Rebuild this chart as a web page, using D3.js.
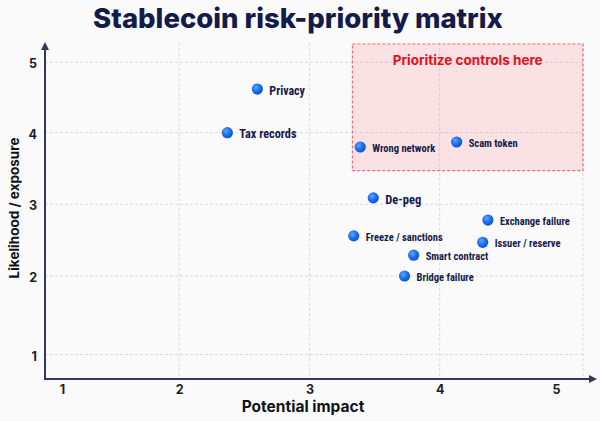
<!DOCTYPE html>
<html>
<head>
<meta charset="utf-8">
<script src="https://cdn.jsdelivr.net/npm/d3@7"></script>
<style>
  html, body { margin: 0; padding: 0; background: #fafafb; }
  svg { display: block; }
</style>
</head>
<body>
<div id="chart"></div>
<script>
// risk items: impact (x) and likelihood (y)
const risks = ['Privacy', 'Tax records', 'Wrong network', 'Scam token', 'De-peg',
  'Exchange failure', 'Freeze / sanctions', 'Issuer / reserve', 'Smart contract', 'Bridge failure']
const impact = [2.60, 2.37, 3.39, 4.13, 3.49, 4.37, 3.34, 4.33, 3.80, 3.73]
const likelihood = [4.62, 4.00, 3.80, 3.87, 3.09, 2.78, 2.56, 2.47, 2.29, 2.00]

const xTicks = [1, 2, 3, 4, 5]
const yTicks = [1, 2, 3, 4, 5]
const xGrid = [2, 3, 4]

// "prioritize" zone, in data units
const zoneX = [3.33, 5.1]
const zoneY = [3.47, 5.26]

const title = 'Stablecoin risk-priority matrix'
const xTitle = 'Potential impact'
const yTitle = 'Likelihood / exposure'
const zoneTitle = 'Prioritize controls here'

const width = 600
const height = 421
const plot = { left: 45, right: 583, top: 43, bottom: 379 }

const labelFont = '"Liberation Sans Narrow", "Arial Narrow", "Roboto Condensed", Roboto, sans-serif'
const labelSize = { 'Privacy': 12, 'Tax records': 12.3, 'De-peg': 12.5 }

const svg = d3.select('#chart').append('svg')
  .attr('width', width)
  .attr('height', height)

svg.append('rect')
  .attr('width', width).attr('height', height)
  .attr('fill', '#fafafb')

const defs = svg.append('defs')
const grad = defs.append('radialGradient')
  .attr('id', 'dot')
  .attr('cx', '38%').attr('cy', '35%').attr('r', '65%')
grad.append('stop').attr('offset', '0%').attr('stop-color', '#5da6ff')
grad.append('stop').attr('offset', '55%').attr('stop-color', '#1f6ff0')
grad.append('stop').attr('offset', '100%').attr('stop-color', '#0f54cc')

const x = d3.scaleLinear().domain([0.97, 5.1]).range([plot.left, plot.right])
// the picture's y spacing is not quite even, so map each tick
const y = d3.scaleLinear().domain([1, 2, 3, 4, 5]).range([354.5, 276, 204.3, 132.7, 62.3])

// grid
const grid = svg.append('g')
  .attr('stroke', '#dcdcdf')
  .attr('stroke-width', 1)
  .attr('stroke-dasharray', '3,2')
grid.selectAll('line.h')
  .data(yTicks)
  .enter().append('line')
  .attr('class', 'h')
  .attr('x1', plot.left).attr('x2', plot.right)
  .attr('y1', d => y(d)).attr('y2', d => y(d))
grid.selectAll('line.v')
  .data(xGrid.concat([5.1]))
  .enter().append('line')
  .attr('class', 'v')
  .attr('x1', d => x(d)).attr('x2', d => x(d))
  .attr('y1', plot.top).attr('y2', plot.bottom)

// priority zone
svg.append('rect')
  .attr('x', x(zoneX[0]))
  .attr('y', y(zoneY[1]))
  .attr('width', x(zoneX[1]) - x(zoneX[0]))
  .attr('height', y(zoneY[0]) - y(zoneY[1]))
  .attr('fill', 'rgba(250, 60, 80, 0.13)')
  .attr('stroke', '#f36b74')
  .attr('stroke-width', 1.2)
  .attr('stroke-dasharray', '3,2')

svg.append('text')
  .attr('x', (x(zoneX[0]) + x(zoneX[1])) / 2)
  .attr('y', 65)
  .attr('text-anchor', 'middle')
  .attr('font-family', 'Inter, Roboto, sans-serif')
  .attr('font-weight', 700)
  .attr('font-size', 13.5)
  .attr('fill', '#e6101a')
  .text(zoneTitle)

// axes
const xAxis = svg.append('g')
  .attr('transform', `translate(0,${plot.bottom})`)
  .call(d3.axisBottom(x).tickValues(xTicks).tickSize(0).tickPadding(6).tickFormat(d3.format('d')))
xAxis.select('.domain').remove()
xAxis.selectAll('text')
  .attr('font-family', 'Inter, Roboto, sans-serif')
  .attr('font-weight', 700)
  .attr('font-size', 12.5)
  .attr('fill', '#1d1d28')
  .attr('dx', d => d === 1 ? 13 : d === 5 ? -14 : 0)

const yAxis = svg.append('g')
  .attr('transform', `translate(${plot.left},0)`)
  .call(d3.axisLeft(y).tickValues(yTicks).tickSize(0).tickPadding(8).tickFormat(d3.format('d')))
yAxis.select('.domain').remove()
yAxis.selectAll('text')
  .attr('font-family', 'Inter, Roboto, sans-serif')
  .attr('font-weight', 700)
  .attr('font-size', 12.5)
  .attr('fill', '#1d1d28')
  .attr('dy', '0.45em')

const axisColor = '#35385a'
svg.append('line')
  .attr('x1', plot.left).attr('x2', 590)
  .attr('y1', plot.bottom).attr('y2', plot.bottom)
  .attr('stroke', axisColor).attr('stroke-width', 2)
svg.append('path')
  .attr('d', `M597,${plot.bottom} L589,${plot.bottom - 4} L589,${plot.bottom + 4} Z`)
  .attr('fill', axisColor)
svg.append('line')
  .attr('x1', plot.left).attr('x2', plot.left)
  .attr('y1', plot.bottom + 1).attr('y2', 49)
  .attr('stroke', axisColor).attr('stroke-width', 2)
svg.append('path')
  .attr('d', `M${plot.left},42 L${plot.left - 4},50 L${plot.left + 4},50 Z`)
  .attr('fill', axisColor)

// points
const pts = svg.append('g')
  .selectAll('g')
  .data(risks.map((name, i) => ({ name, ix: impact[i], lk: likelihood[i] })))
  .enter().append('g')
  .attr('transform', d => `translate(${x(d.ix)},${y(d.lk)})`)
pts.append('circle')
  .attr('r', 5.6)
  .attr('fill', 'url(#dot)')
pts.append('text')
  .attr('x', 12)
  .attr('y', 1.5)
  .attr('dominant-baseline', 'central')
  .attr('font-family', labelFont)
  .attr('font-weight', 700)
  .attr('font-size', d => labelSize[d.name] || 10.5)
  .attr('fill', '#161b4a')
  .text(d => d.name)

// titles
svg.append('text')
  .attr('x', 298)
  .attr('y', 28)
  .attr('text-anchor', 'middle')
  .attr('font-family', 'Inter, Roboto, sans-serif')
  .attr('font-weight', 800)
  .attr('font-size', 27.5)
  .attr('fill', '#141a4a')
  .text(title)

svg.append('text')
  .attr('x', 303)
  .attr('y', 412)
  .attr('text-anchor', 'middle')
  .attr('font-family', 'Inter, Roboto, sans-serif')
  .attr('font-weight', 700)
  .attr('font-size', 15.5)
  .attr('fill', '#111118')
  .text(xTitle)

svg.append('text')
  .attr('transform', 'translate(19,208) rotate(-90)')
  .attr('text-anchor', 'middle')
  .attr('font-family', 'Inter, Roboto, sans-serif')
  .attr('font-weight', 700)
  .attr('font-size', 13.5)
  .attr('fill', '#111118')
  .text(yTitle)
</script>
</body>
</html>
